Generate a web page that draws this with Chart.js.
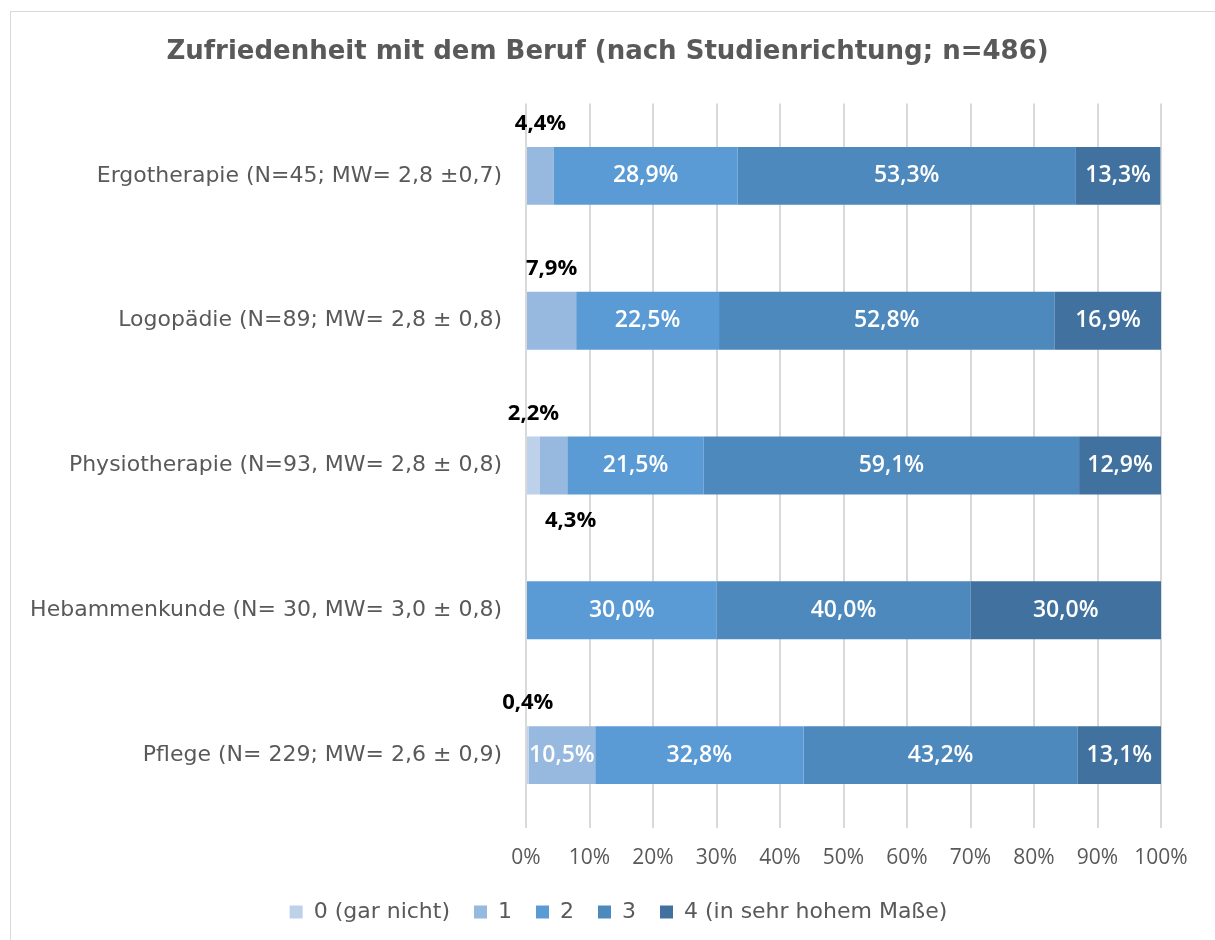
<!DOCTYPE html>
<html>
<head>
<meta charset="utf-8">
<script src="https://cdn.jsdelivr.net/npm/chart.js@4.4.1/dist/chart.umd.min.js"></script>
<style>
  html, body { margin: 0; padding: 0; background: #fff; }
  #frame { position: absolute; left: 10px; top: 11px; width: 1260px; height: 980px; border: 1px solid #d9d9d9; }
  #wrap { position: absolute; left: 0; top: 0; width: 1215px; height: 940px; }
</style>
</head>
<body>
<div id="frame"></div>
<div id="wrap"><canvas id="chart" width="1215" height="940"></canvas></div>
<script>
// Studienrichtungen
const categories = [
    "Ergotherapie (N=45; MW= 2,8 ±0,7)",
    "Logopädie (N=89; MW= 2,8 ± 0,8)",
    "Physiotherapie (N=93, MW= 2,8 ± 0,8)",
    "Hebammenkunde (N= 30, MW= 3,0 ± 0,8)",
    "Pflege (N= 229; MW= 2,6 ± 0,9)"
];

// Anteile je Antwortstufe (%)
const series0 = [0, 0, 2.2, 0, 0.4];
const series1 = [4.4, 7.9, 4.3, 0, 10.5];
const series2 = [28.9, 22.5, 21.5, 30.0, 32.8];
const series3 = [53.3, 52.8, 59.1, 40.0, 43.2];
const series4 = [13.3, 16.9, 12.9, 30.0, 13.1];

const seriesNames = ["0 (gar nicht)", "1", "2", "3", "4 (in sehr hohem Maße)"];
const seriesColors = ["#bdd1ea", "#97b8df", "#5b9bd5", "#4e89bd", "#41729f"];

const xTicks = [0, 10, 20, 30, 40, 50, 60, 70, 80, 90, 100];

const titleText = "Zufriedenheit mit dem Beruf (nach Studienrichtung; n=486)";

const gothic = "'DejaVu Sans', sans-serif";
const sans = "'Open Sans', sans-serif";

const fmt = v => v.toFixed(1).replace(".", ",") + "%";

// Title centred on the whole page (the plot itself is offset to the right)
const pageTitle = {
    id: "pageTitle",
    afterLayout(chart) {
        // legend sits a bit right of the plot centre, like the original
        chart.legend.left += 38;
        chart.legend.right += 38;
    },
    afterDraw(chart) {
        const ctx = chart.ctx;
        ctx.save();
        ctx.font = "bold 26px " + gothic;
        ctx.fillStyle = "#595959";
        ctx.textAlign = "center";
        ctx.textBaseline = "middle";
        ctx.fillText(titleText, chart.width / 2, 52);
        ctx.restore();
    }
};

// Value labels: inside if the segment is wide enough, otherwise above/below the bar
const valueLabels = {
    id: "valueLabels",
    afterDatasetsDraw(chart) {
        const ctx = chart.ctx;
        ctx.save();
        ctx.textAlign = "center";
        ctx.textBaseline = "middle";
        const outsideCount = categories.map(() => 0);
        chart.data.datasets.forEach((ds, i) => {
            const meta = chart.getDatasetMeta(i);
            meta.data.forEach((bar, j) => {
                const v = ds.data[j];
                if (!v) return;
                const cx = (bar.x + bar.base) / 2;
                if (v >= 9) {
                    ctx.font = "600 23px " + sans;
                    ctx.fillStyle = "#ffffff";
                    ctx.fillText(fmt(v), cx, bar.y);
                } else {
                    ctx.font = "bold 22px " + sans;
                    ctx.fillStyle = "#000000";
                    const below = outsideCount[j] % 2 === 1;
                    const y = below ? bar.y + bar.height / 2 + 26 : bar.y - bar.height / 2 - 23;
                    ctx.fillText(fmt(v), below ? cx + 17 : cx, y);
                    outsideCount[j]++;
                }
            });
        });
        ctx.restore();
    }
};

const data = {
    labels: categories,
    datasets: [series0, series1, series2, series3, series4].map((s, i) => ({
        label: seriesNames[i],
        data: s,
        backgroundColor: seriesColors[i],
        borderWidth: 0,
        categoryPercentage: 1,
        barPercentage: 0.4
    }))
};

new Chart(document.getElementById("chart"), {
    type: "bar",
    data: data,
    plugins: [valueLabels, pageTitle],
    options: {
        indexAxis: "y",
        responsive: false,
        animation: false,
        layout: { padding: { left: 0, right: 54, top: 103.5, bottom: 7 } },
        plugins: {
            title: { display: false },
            legend: {
                position: "bottom",
                labels: {
                    color: "#595959",
                    font: { family: gothic, size: 22 },
                    boxWidth: 13,
                    boxHeight: 13,
                    padding: 24
                }
            },
            tooltip: { enabled: false }
        },
        scales: {
            x: {
                stacked: true,
                min: 0,
                max: 100,
                afterBuildTicks: scale => { scale.ticks = xTicks.map(v => ({ value: v })); },
                afterFit: scale => { scale.height = 49.5; },
                grid: { color: "#d9d9d9", lineWidth: 2, drawTicks: false },
                border: { display: false },
                ticks: {
                    color: "#595959",
                    font: { family: sans, size: 21 },
                    padding: 18,
                    maxRotation: 0,
                    callback: v => v + "%"
                }
            },
            y: {
                stacked: true,
                afterFit: scale => { scale.width = 526; },
                grid: { display: false, drawTicks: false },
                border: { display: false },
                ticks: {
                    color: "#595959",
                    font: { family: gothic, size: 22 },
                    padding: 24
                }
            }
        }
    }
});
</script>
</body>
</html>
